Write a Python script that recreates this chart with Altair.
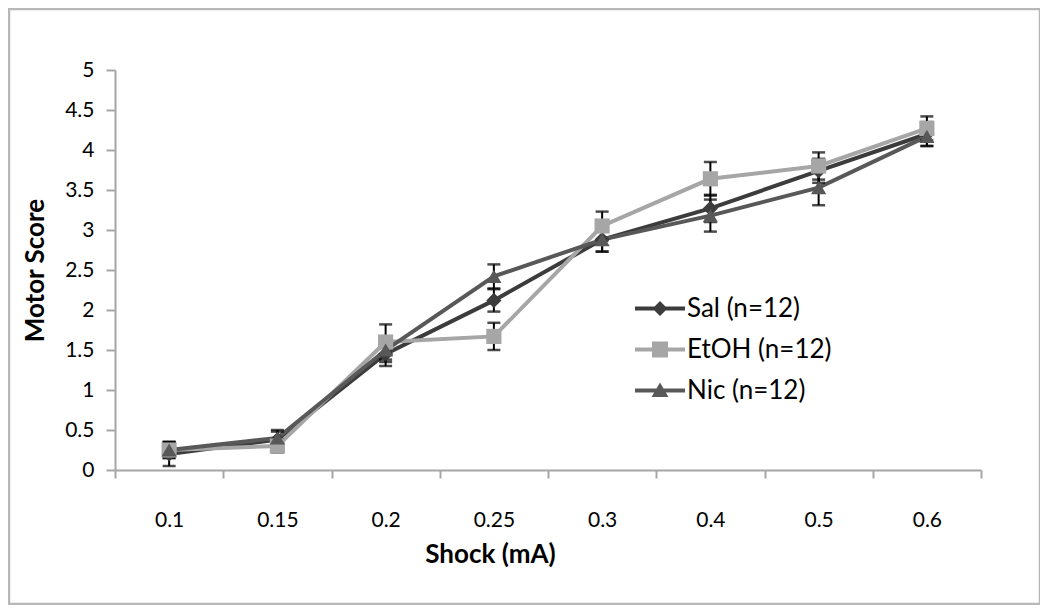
import altair as alt
import pandas as pd

shock = ["0.1", "0.15", "0.2", "0.25", "0.3", "0.4", "0.5", "0.6"]
series = ["Sal (n=12)", "EtOH (n=12)", "Nic (n=12)"]
sal = [0.20, 0.38, 1.45, 2.12, 2.88, 3.27, 3.74, 4.20]
etoh = [0.25, 0.30, 1.60, 1.67, 3.05, 3.64, 3.80, 4.27]
nic = [0.25, 0.40, 1.50, 2.42, 2.88, 3.18, 3.53, 4.17]
sal_sem = [0.15, 0.10, 0.15, 0.14, 0.15, 0.17, 0.15, 0.15]
etoh_sem = [0.10, 0.08, 0.22, 0.17, 0.18, 0.21, 0.17, 0.15]
nic_sem = [0.10, 0.10, 0.15, 0.15, 0.15, 0.20, 0.22, 0.12]
y_ticks = [0, 0.5, 1, 1.5, 2, 2.5, 3, 3.5, 4, 4.5, 5]
colors = ["#3c3c3c", "#a6a6a6", "#585858"]
shapes = ["diamond", "square", "triangle-up"]

rows = []
for name, vals, sems in zip(series, [sal, etoh, nic], [sal_sem, etoh_sem, nic_sem]):
    for s, v, e in zip(shock, vals, sems):
        rows.append({"shock": s, "series": name, "score": v, "lo": v - e, "hi": v + e})
df = pd.DataFrame(rows)

W, H = 866, 400
PAD = {"left": 107, "top": 62, "right": 59, "bottom": 135}
FONT = "Lato"

xscale = alt.Scale(type="band", paddingInner=0, paddingOuter=0)
xaxis = alt.Axis(title="Shock (mA)", tickBand="extent", labelAngle=0,
                 labelPadding=31, tickSize=8, titleX=375, titleY=71,
                 titleAnchor="middle", labelOverlap=False)
yscale = alt.Scale(domain=[0, 5], nice=False, zero=False)
yaxis = alt.Axis(title="Motor Score", values=y_ticks, format=".1~f",
                 tickSize=9, labelPadding=12, titleX=-80, titleY=200,
                 titleAnchor="middle", titleBaseline="middle",
                 labelOverlap=False)
xn = alt.X("shock:N", sort=shock, scale=xscale, axis=xaxis)


def yq(field):
    return alt.Y(field, type="quantitative", scale=yscale, axis=yaxis)


cscale = alt.Scale(domain=series, range=colors)

base = alt.Chart(df)
lines = base.mark_line(strokeWidth=4).encode(
    x=xn, y=yq("score"),
    color=alt.Color("series:N", scale=cscale, legend=None),
    detail="series:N",
)
err = base.mark_rule(color="#000000", strokeWidth=2).encode(
    x=xn, y=yq("lo"), y2="hi:Q")
cap_lo = base.mark_tick(color="#000000", thickness=2.5, size=13).encode(
    x=xn, y=yq("lo"))
cap_hi = base.mark_tick(color="#000000", thickness=2.5, size=13).encode(
    x=xn, y=yq("hi"))
pts = base.mark_point(filled=True, opacity=1, size=230).encode(
    x=xn, y=yq("score"),
    color=alt.Color("series:N", scale=cscale, legend=None),
    shape=alt.Shape("series:N", scale=alt.Scale(domain=series, range=shapes), legend=None),
)

# legend glyphs: a short line with the series marker in its middle
ln = "M-1,-0.08H1V0.08H-1Z"
legend_paths = [
    ln + "M0,-0.3L0.3,0L0,0.3L-0.3,0Z",
    ln + "M-0.32,-0.32H0.32V0.32H-0.32Z",
    ln + "M0,-0.32L0.34,0.26H-0.34Z",
]
leg_opts = dict(title=None, orient="none", legendX=520, legendY=218, rowPadding=0,
                clipHeight=41,
                labelFont=FONT, labelFontSize=26, labelColor="#000000", labelOffset=2,
                symbolSize=2500, symbolStrokeWidth=0)
leg_df = pd.DataFrame({"series": series, "score": [-10] * len(series), "shock": [shock[0]] * len(series)})
legend_layer = alt.Chart(leg_df).mark_point(filled=True, opacity=1, size=2500, clip=True, strokeWidth=0).encode(
    x=xn, y=yq("score"),
    color=alt.Color("series:N", scale=cscale, legend=alt.Legend(**leg_opts)),
    shape=alt.Shape("series:N", scale=alt.Scale(domain=series, range=legend_paths),
                    legend=alt.Legend(**leg_opts)),
)

frame = alt.Chart(pd.DataFrame({"k": [0]})).mark_rect(
    fill=None, stroke="#b8b8b8", strokeWidth=2.5).encode(
    x=alt.value(-106), x2=alt.value(925), y=alt.value(-61), y2=alt.value(534))

main = alt.layer(lines, err, cap_lo, cap_hi, pts)
chart = alt.layer(frame, main, legend_layer).resolve_scale(
    color="independent", shape="independent"
).properties(
    width=W, height=H, padding=PAD,
    autosize=alt.AutoSizeParams(type="none"),
).configure_view(stroke=None).configure_axis(
    grid=False, domainColor="#a6a6a6", domainWidth=2, tickColor="#a6a6a6", tickWidth=2,
    labelFont=FONT, labelFontSize=21, labelColor="#000000",
    titleFont=FONT, titleFontSize=26, titleFontWeight="bold", titleColor="#000000",
)

chart.save("out.html", embed_options={"renderer": "svg", "actions": False})
